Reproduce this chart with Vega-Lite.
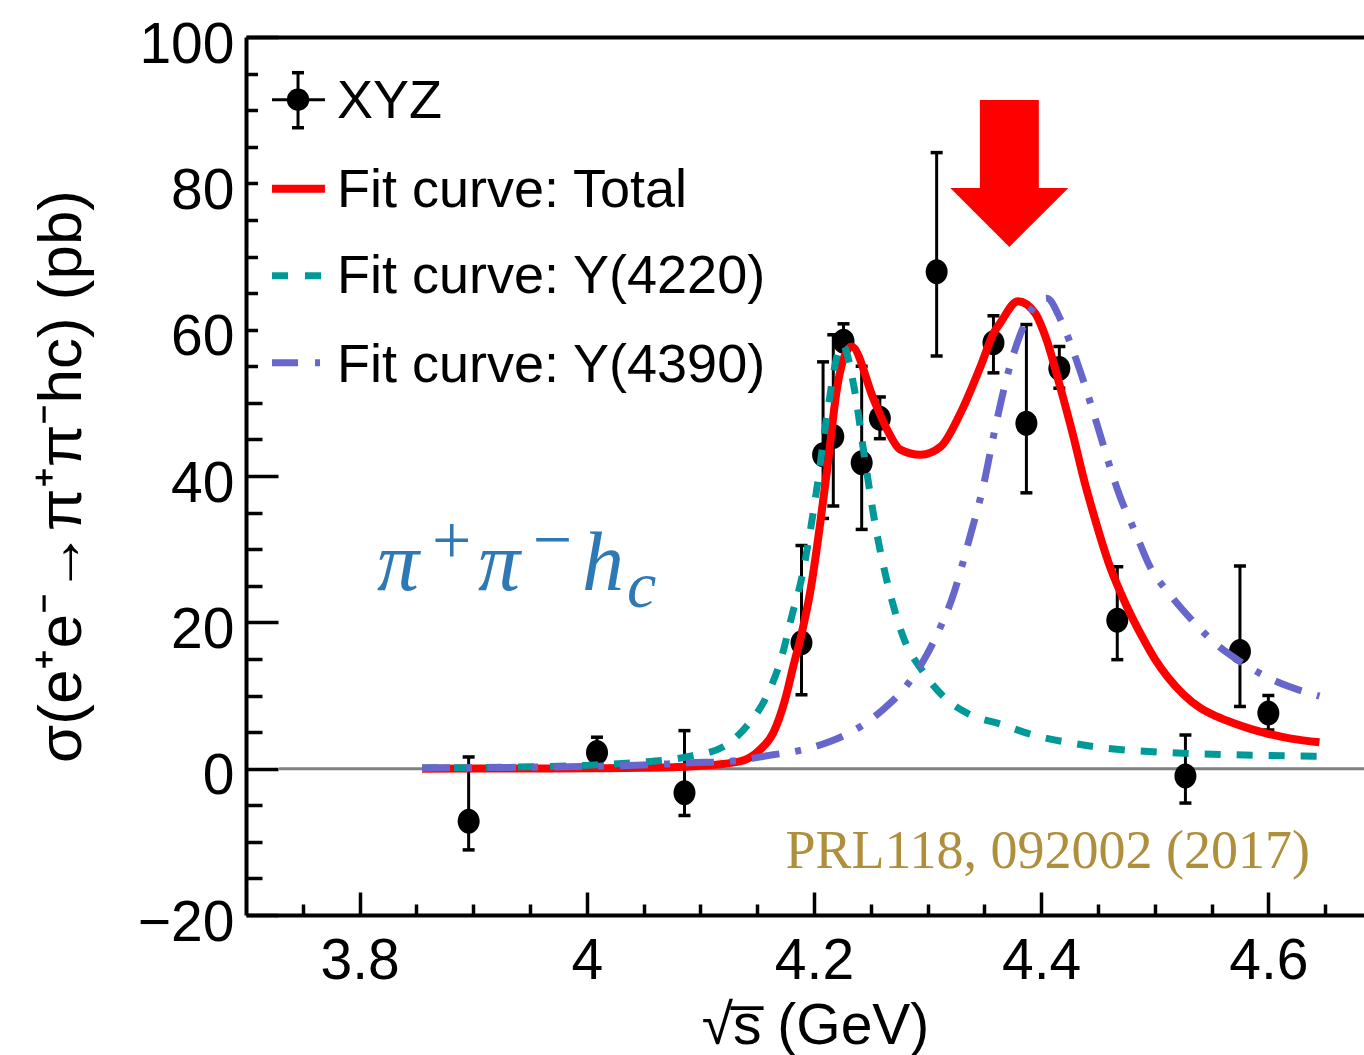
{
  "$schema": "https://vega.github.io/schema/vega-lite/v6.json",
  "width": 1118,
  "height": 878,
  "autosize": {"type": "none"},
  "padding": {"left": 246, "top": 37, "right": 0, "bottom": 140},
  "background": "white",
  "data": {"values": [{}]},
  "config": {
    "view": {"stroke": null},
    "axis": {"grid": false, "domainColor": "black", "tickColor": "black", "labelColor": "black", "titleColor": "black", "labelFontWeight": "normal", "titleFontWeight": "normal"}
  },
  "datasets": {
    "points": [
      {"x": 3.896, "y": -7.2, "lo": -11.1, "hi": 1.6},
      {"x": 4.009, "y": 2.2, "lo": 0.5, "hi": 4.3},
      {"x": 4.086, "y": -3.3, "lo": -6.4, "hi": 5.2},
      {"x": 4.189, "y": 17.2, "lo": 10.1, "hi": 30.5},
      {"x": 4.208, "y": 42.9, "lo": 34.2, "hi": 55.6},
      {"x": 4.217, "y": 45.4, "lo": 35.9, "hi": 59.3},
      {"x": 4.226, "y": 58.4, "lo": 56.0, "hi": 60.8},
      {"x": 4.242, "y": 41.8, "lo": 32.7, "hi": 55.0},
      {"x": 4.258, "y": 47.9, "lo": 45.1, "hi": 50.8},
      {"x": 4.308, "y": 67.9, "lo": 56.4, "hi": 84.2},
      {"x": 4.358, "y": 58.2, "lo": 54.1, "hi": 61.9},
      {"x": 4.387, "y": 47.2, "lo": 37.7, "hi": 60.7},
      {"x": 4.416, "y": 54.7, "lo": 52.0, "hi": 57.7},
      {"x": 4.467, "y": 20.3, "lo": 14.9, "hi": 27.6},
      {"x": 4.527, "y": -1.0, "lo": -4.7, "hi": 4.6},
      {"x": 4.575, "y": 16.0, "lo": 8.5, "hi": 27.7},
      {"x": 4.600, "y": 7.6, "lo": 5.3, "hi": 10.0}
    ],
    "curves": [
      {"s": "total", "x": 3.855, "y": 0.0},
      {"s": "total", "x": 3.95, "y": 0.02},
      {"s": "total", "x": 4.0, "y": 0.05},
      {"s": "total", "x": 4.05, "y": 0.12},
      {"s": "total", "x": 4.091, "y": 0.3},
      {"s": "total", "x": 4.1349, "y": 1.0},
      {"s": "total", "x": 4.1525, "y": 2.6},
      {"s": "total", "x": 4.1642, "y": 4.9},
      {"s": "total", "x": 4.1745, "y": 9.4},
      {"s": "total", "x": 4.1818, "y": 14.0},
      {"s": "total", "x": 4.1892, "y": 18.5},
      {"s": "total", "x": 4.1965, "y": 24.0},
      {"s": "total", "x": 4.2115, "y": 40.8},
      {"s": "total", "x": 4.2205, "y": 52.2},
      {"s": "total", "x": 4.2307, "y": 57.5},
      {"s": "total", "x": 4.233, "y": 57.7},
      {"s": "total", "x": 4.2527, "y": 50.4},
      {"s": "total", "x": 4.2645, "y": 46.3},
      {"s": "total", "x": 4.276, "y": 43.6},
      {"s": "total", "x": 4.294, "y": 42.9},
      {"s": "total", "x": 4.3115, "y": 44.0},
      {"s": "total", "x": 4.329, "y": 48.6},
      {"s": "total", "x": 4.3467, "y": 55.0},
      {"s": "total", "x": 4.358, "y": 59.5},
      {"s": "total", "x": 4.3643, "y": 61.0},
      {"s": "total", "x": 4.3796, "y": 63.9},
      {"s": "total", "x": 4.3945, "y": 62.3},
      {"s": "total", "x": 4.4048, "y": 58.6},
      {"s": "total", "x": 4.4165, "y": 52.3},
      {"s": "total", "x": 4.4282, "y": 45.5},
      {"s": "total", "x": 4.4385, "y": 39.0},
      {"s": "total", "x": 4.4459, "y": 34.9},
      {"s": "total", "x": 4.4606, "y": 27.6},
      {"s": "total", "x": 4.4753, "y": 22.2},
      {"s": "total", "x": 4.489, "y": 18.0},
      {"s": "total", "x": 4.5, "y": 15.0},
      {"s": "total", "x": 4.511, "y": 12.6},
      {"s": "total", "x": 4.525, "y": 10.2},
      {"s": "total", "x": 4.54, "y": 8.3},
      {"s": "total", "x": 4.555, "y": 7.1},
      {"s": "total", "x": 4.5696, "y": 6.2},
      {"s": "total", "x": 4.585, "y": 5.4},
      {"s": "total", "x": 4.599, "y": 4.8},
      {"s": "total", "x": 4.62, "y": 4.1},
      {"s": "total", "x": 4.645, "y": 3.6},
      {"s": "y4220", "x": 3.855, "y": 0.1},
      {"s": "y4220", "x": 3.95, "y": 0.25},
      {"s": "y4220", "x": 4.0, "y": 0.45},
      {"s": "y4220", "x": 4.0386, "y": 0.8},
      {"s": "y4220", "x": 4.0908, "y": 1.7},
      {"s": "y4220", "x": 4.1202, "y": 3.0},
      {"s": "y4220", "x": 4.1407, "y": 5.8},
      {"s": "y4220", "x": 4.1583, "y": 9.9},
      {"s": "y4220", "x": 4.1716, "y": 15.3},
      {"s": "y4220", "x": 4.1804, "y": 20.8},
      {"s": "y4220", "x": 4.1888, "y": 25.8},
      {"s": "y4220", "x": 4.2028, "y": 38.6},
      {"s": "y4220", "x": 4.2117, "y": 48.6},
      {"s": "y4220", "x": 4.2219, "y": 57.2},
      {"s": "y4220", "x": 4.225, "y": 58.0},
      {"s": "y4220", "x": 4.2352, "y": 52.2},
      {"s": "y4220", "x": 4.244, "y": 43.1},
      {"s": "y4220", "x": 4.2542, "y": 33.1},
      {"s": "y4220", "x": 4.2686, "y": 23.0},
      {"s": "y4220", "x": 4.2786, "y": 18.0},
      {"s": "y4220", "x": 4.2962, "y": 13.2},
      {"s": "y4220", "x": 4.3138, "y": 9.9},
      {"s": "y4220", "x": 4.3373, "y": 7.4},
      {"s": "y4220", "x": 4.364, "y": 6.1},
      {"s": "y4220", "x": 4.393, "y": 4.6},
      {"s": "y4220", "x": 4.423, "y": 3.6},
      {"s": "y4220", "x": 4.452, "y": 2.9},
      {"s": "y4220", "x": 4.511, "y": 2.2},
      {"s": "y4220", "x": 4.569, "y": 1.9},
      {"s": "y4220", "x": 4.645, "y": 1.7},
      {"s": "y4390", "x": 3.855, "y": 0.1},
      {"s": "y4390", "x": 3.95, "y": 0.2},
      {"s": "y4390", "x": 4.0, "y": 0.3},
      {"s": "y4390", "x": 4.05, "y": 0.5},
      {"s": "y4390", "x": 4.0908, "y": 0.8},
      {"s": "y4390", "x": 4.1261, "y": 1.0},
      {"s": "y4390", "x": 4.1642, "y": 1.9},
      {"s": "y4390", "x": 4.1848, "y": 2.4},
      {"s": "y4390", "x": 4.2141, "y": 3.7},
      {"s": "y4390", "x": 4.2434, "y": 6.0},
      {"s": "y4390", "x": 4.261, "y": 8.1},
      {"s": "y4390", "x": 4.2786, "y": 10.8},
      {"s": "y4390", "x": 4.2962, "y": 14.7},
      {"s": "y4390", "x": 4.3109, "y": 19.2},
      {"s": "y4390", "x": 4.3212, "y": 23.1},
      {"s": "y4390", "x": 4.3373, "y": 31.7},
      {"s": "y4390", "x": 4.3496, "y": 39.0},
      {"s": "y4390", "x": 4.358, "y": 45.4},
      {"s": "y4390", "x": 4.37, "y": 53.6},
      {"s": "y4390", "x": 4.382, "y": 59.5},
      {"s": "y4390", "x": 4.3936, "y": 63.2},
      {"s": "y4390", "x": 4.405, "y": 64.3},
      {"s": "y4390", "x": 4.4173, "y": 61.3},
      {"s": "y4390", "x": 4.432, "y": 55.4},
      {"s": "y4390", "x": 4.4489, "y": 47.2},
      {"s": "y4390", "x": 4.459, "y": 42.0},
      {"s": "y4390", "x": 4.4694, "y": 37.2},
      {"s": "y4390", "x": 4.4826, "y": 32.4},
      {"s": "y4390", "x": 4.4958, "y": 27.6},
      {"s": "y4390", "x": 4.5134, "y": 23.8},
      {"s": "y4390", "x": 4.534, "y": 20.1},
      {"s": "y4390", "x": 4.552, "y": 17.3},
      {"s": "y4390", "x": 4.5756, "y": 14.6},
      {"s": "y4390", "x": 4.599, "y": 12.5},
      {"s": "y4390", "x": 4.645, "y": 9.9}
    ]
  },
  "resolve": {"axis": {"x": "independent", "y": "independent"}},
  "layer": [
    {
      "mark": {"type": "rect", "color": "white"},
      "encoding": {
        "x": {"datum": 3.7106, "type": "quantitative", "axis": null},
        "x2": {"datum": 4.16},
        "y": {"datum": 53, "type": "quantitative", "axis": null},
        "y2": {"datum": 97}
      }
    },
    {
      "mark": {"type": "rule", "color": "#808080", "strokeWidth": 3},
      "encoding": {
        "x": {"datum": 3.7291, "type": "quantitative", "axis": null},
        "x2": {"datum": 4.6842},
        "y": {"datum": 0, "type": "quantitative", "axis": null}
      }
    },
    {
      "data": {"name": "points"},
      "mark": {"type": "rule", "color": "black", "strokeWidth": 3},
      "encoding": {
        "x": {"field": "x", "type": "quantitative",
              "scale": {"domain": [3.7, 4.6842], "nice": false, "zero": false},
              "axis": {"orient": "bottom", "values": [3.75, 3.85, 3.9, 3.95, 4.05, 4.1, 4.15, 4.25, 4.3, 4.35, 4.45, 4.5, 4.55, 4.65],
                       "domain": false, "ticks": true, "tickSize": -11, "tickWidth": 3.5, "labels": false, "title": null}},
        "y": {"field": "lo", "type": "quantitative",
              "scale": {"domain": [-20, 100], "nice": false, "zero": false},
              "axis": {"orient": "left", "values": [-15, -10, -5, 5, 10, 15, 25, 30, 35, 45, 50, 55, 65, 70, 75, 85, 90, 95],
                       "domain": false, "ticks": true, "tickSize": -16, "tickWidth": 3.5, "labels": false, "title": null}},
        "y2": {"field": "hi"}
      }
    },
    {
      "data": {"name": "points"},
      "mark": {"type": "tick", "orient": "horizontal", "color": "black", "size": 12, "thickness": 3.5, "opacity": 1},
      "encoding": {
        "x": {"field": "x", "type": "quantitative",
              "axis": {"orient": "top", "domain": true, "domainWidth": 4, "ticks": false, "labels": false, "title": null}},
        "y": {"field": "lo", "type": "quantitative", "axis": null}
      }
    },
    {
      "data": {"name": "points"},
      "mark": {"type": "tick", "orient": "horizontal", "color": "black", "size": 12, "thickness": 3.5, "opacity": 1},
      "encoding": {
        "x": {"field": "x", "type": "quantitative", "axis": null},
        "y": {"field": "hi", "type": "quantitative", "axis": null}
      }
    },
    {
      "data": {"name": "points"},
      "mark": {"type": "point", "shape": "M0,-1A0.88,1 0 1,1 0,1A0.88,1 0 1,1 0,-1Z", "size": 625, "filled": true, "color": "black", "opacity": 1, "strokeWidth": 0},
      "encoding": {
        "x": {"field": "x", "type": "quantitative",
              "axis": {"orient": "bottom", "values": [3.8, 4.0, 4.2, 4.4, 4.6],
                       "domain": true, "domainWidth": 4, "ticks": true, "tickSize": -23, "tickWidth": 3.5,
                       "labelFont": "Liberation Sans, Arial, sans-serif", "labelFontSize": 57, "labelPadding": 86, "labelBaseline": "alphabetic",
                       "labelExpr": "format(datum.value, '~g')", "labelFlush": false, "labelOverlap": false,
                       "title": "√s̅ (GeV)", "titleFont": "Liberation Sans, Arial, sans-serif", "titleFontSize": 57,
                       "titleX": 569, "titleY": 128, "titleBaseline": "alphabetic", "titleAlign": "center"}},
        "y": {"field": "y", "type": "quantitative",
              "axis": {"orient": "left", "values": [-20, 0, 20, 40, 60, 80, 100],
                       "domain": true, "domainWidth": 4, "ticks": true, "tickSize": -32, "tickWidth": 3.5,
                       "labelFont": "Liberation Sans, Arial, sans-serif", "labelFontSize": 57, "labelPadding": 44, "labelBaseline": "alphabetic",
                       "labelOffset": 25, "labelAlign": "right", "labelFlush": false, "labelOverlap": false,
                       "labelExpr": "format(datum.value, 'd')",
                       "title": "σ(e⁺e⁻→π⁺π⁻hc) (pb)", "titleFont": "Liberation Sans, Arial, sans-serif", "titleFontSize": 62,
                       "titleAngle": -90, "titleX": -166, "titleY": 439, "titleBaseline": "alphabetic", "titleAlign": "center"}}
      }
    },
    {
      "data": {"name": "curves"},
      "transform": [{"filter": "datum.s === 'total'"}],
      "mark": {"type": "line", "color": "#ff0000", "strokeWidth": 8, "interpolate": "monotone"},
      "encoding": {
        "x": {"field": "x", "type": "quantitative", "axis": null},
        "y": {"field": "y", "type": "quantitative", "axis": null}
      }
    },
    {
      "data": {"name": "curves"},
      "transform": [{"filter": "datum.s === 'y4220'"}],
      "mark": {"type": "line", "color": "#009999", "strokeWidth": 7, "strokeDash": [16, 16], "interpolate": "monotone"},
      "encoding": {
        "x": {"field": "x", "type": "quantitative", "axis": null},
        "y": {"field": "y", "type": "quantitative", "axis": null}
      }
    },
    {
      "data": {"name": "curves"},
      "transform": [{"filter": "datum.s === 'y4390'"}],
      "mark": {"type": "line", "color": "#6666cc", "strokeWidth": 7, "strokeDash": [28, 16, 6, 16], "interpolate": "monotone"},
      "encoding": {
        "x": {"field": "x", "type": "quantitative", "axis": null},
        "y": {"field": "y", "type": "quantitative", "axis": null}
      }
    },
    {
      "mark": {"type": "point", "shape": "M-0.401,-1L0.401,-1L0.401,0.197L0.803,0.197L0,1L-0.803,0.197L-0.401,0.197Z", "size": 21609, "filled": true, "color": "#ff0000", "opacity": 1, "strokeWidth": 0},
      "encoding": {
        "x": {"datum": 4.372, "type": "quantitative", "axis": null},
        "y": {"datum": 81.35, "type": "quantitative", "axis": null}
      }
    },
    {
      "mark": {"type": "text", "text": "π", "font": "Liberation Serif", "fontStyle": "italic", "fontSize": 84, "color": "#2e78b5", "align": "left", "baseline": "alphabetic"},
      "encoding": {"x": {"datum": 3.8153, "type": "quantitative", "axis": null}, "y": {"datum": 24.46, "type": "quantitative", "axis": null}}
    },
    {
      "mark": {"type": "text", "text": "+", "font": "Liberation Serif", "fontSize": 70, "color": "#2e78b5", "align": "center", "baseline": "middle"},
      "encoding": {"x": {"datum": 3.8811, "type": "quantitative", "axis": null}, "y": {"datum": 30.89, "type": "quantitative", "axis": null}}
    },
    {
      "mark": {"type": "text", "text": "π", "font": "Liberation Serif", "fontStyle": "italic", "fontSize": 84, "color": "#2e78b5", "align": "left", "baseline": "alphabetic"},
      "encoding": {"x": {"datum": 3.9042, "type": "quantitative", "axis": null}, "y": {"datum": 24.46, "type": "quantitative", "axis": null}}
    },
    {
      "mark": {"type": "text", "text": "−", "font": "Liberation Serif", "fontSize": 70, "color": "#2e78b5", "align": "center", "baseline": "middle"},
      "encoding": {"x": {"datum": 3.9698, "type": "quantitative", "axis": null}, "y": {"datum": 31.02, "type": "quantitative", "axis": null}}
    },
    {
      "mark": {"type": "text", "text": "h", "font": "Liberation Serif", "fontStyle": "italic", "fontSize": 84, "color": "#2e78b5", "align": "left", "baseline": "alphabetic"},
      "encoding": {"x": {"datum": 3.9958, "type": "quantitative", "axis": null}, "y": {"datum": 24.46, "type": "quantitative", "axis": null}}
    },
    {
      "mark": {"type": "text", "text": "c", "font": "Liberation Serif", "fontStyle": "italic", "fontSize": 66, "color": "#2e78b5", "align": "left", "baseline": "alphabetic"},
      "encoding": {"x": {"datum": 4.0355, "type": "quantitative", "axis": null}, "y": {"datum": 22.14, "type": "quantitative", "axis": null}}
    },
    {
      "mark": {"type": "text", "text": "PRL118, 092002 (2017)", "font": "Liberation Serif", "fontSize": 54, "color": "#b08f3c", "align": "right", "baseline": "alphabetic"},
      "encoding": {"x": {"datum": 4.6366, "type": "quantitative", "axis": null}, "y": {"datum": -13.57, "type": "quantitative", "axis": null}}
    },
    {
      "mark": {"type": "rule", "color": "black", "strokeWidth": 3},
      "encoding": {"x": {"datum": 3.7229, "type": "quantitative", "axis": null}, "x2": {"datum": 3.7695}, "y": {"datum": 91.43, "type": "quantitative", "axis": null}}
    },
    {
      "mark": {"type": "rule", "color": "black", "strokeWidth": 3},
      "encoding": {"x": {"datum": 3.7458, "type": "quantitative", "axis": null}, "y": {"datum": 87.6, "type": "quantitative", "axis": null}, "y2": {"datum": 95.12}}
    },
    {
      "mark": {"type": "tick", "orient": "horizontal", "color": "black", "size": 12, "thickness": 3.5, "opacity": 1},
      "encoding": {"x": {"datum": 3.7458, "type": "quantitative", "axis": null}, "y": {"datum": 87.6, "type": "quantitative", "axis": null}}
    },
    {
      "mark": {"type": "tick", "orient": "horizontal", "color": "black", "size": 12, "thickness": 3.5, "opacity": 1},
      "encoding": {"x": {"datum": 3.7458, "type": "quantitative", "axis": null}, "y": {"datum": 95.12, "type": "quantitative", "axis": null}}
    },
    {
      "mark": {"type": "point", "shape": "circle", "size": 500, "filled": true, "color": "black", "opacity": 1, "strokeWidth": 0},
      "encoding": {"x": {"datum": 3.7458, "type": "quantitative", "axis": null}, "y": {"datum": 91.43, "type": "quantitative", "axis": null}}
    },
    {
      "mark": {"type": "rule", "color": "#ff0000", "strokeWidth": 8},
      "encoding": {"x": {"datum": 3.7229, "type": "quantitative", "axis": null}, "x2": {"datum": 3.7695}, "y": {"datum": 79.27, "type": "quantitative", "axis": null}}
    },
    {
      "mark": {"type": "rule", "color": "#009999", "strokeWidth": 7, "strokeDash": [16, 17]},
      "encoding": {"x": {"datum": 3.7229, "type": "quantitative", "axis": null}, "x2": {"datum": 3.7695}, "y": {"datum": 67.38, "type": "quantitative", "axis": null}}
    },
    {
      "mark": {"type": "rule", "color": "#6666cc", "strokeWidth": 7, "strokeDash": [26, 17, 5, 17]},
      "encoding": {"x": {"datum": 3.7229, "type": "quantitative", "axis": null}, "x2": {"datum": 3.7695}, "y": {"datum": 55.49, "type": "quantitative", "axis": null}}
    },
    {
      "mark": {"type": "text", "text": "XYZ", "font": "Liberation Sans, Arial, sans-serif", "fontSize": 54, "color": "black", "align": "left", "baseline": "alphabetic"},
      "encoding": {"x": {"datum": 3.7801, "type": "quantitative", "axis": null}, "y": {"datum": 88.97, "type": "quantitative", "axis": null}}
    },
    {
      "mark": {"type": "text", "text": "Fit curve: Total", "font": "Liberation Sans, Arial, sans-serif", "fontSize": 54, "color": "black", "align": "left", "baseline": "alphabetic"},
      "encoding": {"x": {"datum": 3.7801, "type": "quantitative", "axis": null}, "y": {"datum": 76.81, "type": "quantitative", "axis": null}}
    },
    {
      "mark": {"type": "text", "text": "Fit curve: Y(4220)", "font": "Liberation Sans, Arial, sans-serif", "fontSize": 54, "color": "black", "align": "left", "baseline": "alphabetic"},
      "encoding": {"x": {"datum": 3.7801, "type": "quantitative", "axis": null}, "y": {"datum": 65.06, "type": "quantitative", "axis": null}}
    },
    {
      "mark": {"type": "text", "text": "Fit curve: Y(4390)", "font": "Liberation Sans, Arial, sans-serif", "fontSize": 54, "color": "black", "align": "left", "baseline": "alphabetic"},
      "encoding": {"x": {"datum": 3.7801, "type": "quantitative", "axis": null}, "y": {"datum": 52.89, "type": "quantitative", "axis": null}}
    }
  ]
}
